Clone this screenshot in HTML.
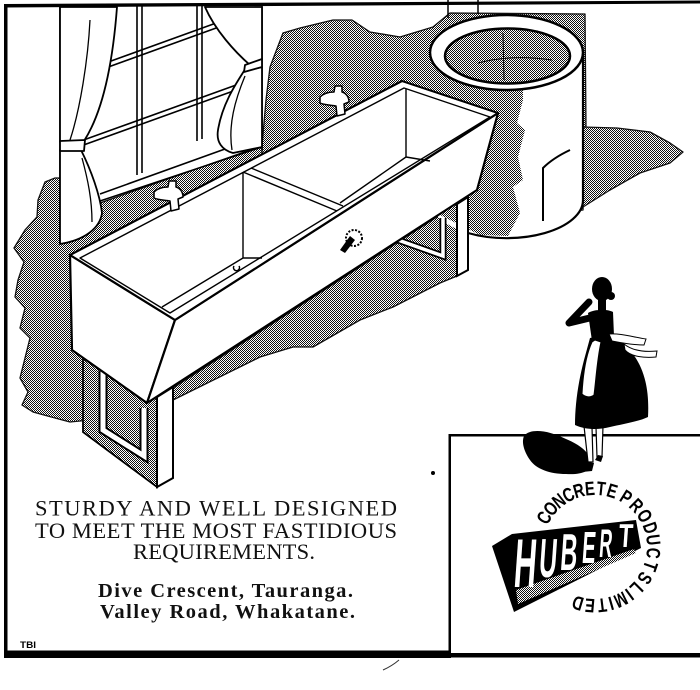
<!DOCTYPE html>
<html><head><meta charset="utf-8">
<style>
html,body{margin:0;padding:0;background:#fff;width:700px;height:690px;overflow:hidden}
svg{display:block}
</style></head>
<body>
<svg width="700" height="690" viewBox="0 0 700 690" xmlns="http://www.w3.org/2000/svg">
<defs>
<pattern id="st" width="2" height="2" patternUnits="userSpaceOnUse">
<rect width="2" height="2" fill="#fff"/>
<rect width="1" height="1" fill="#111"/>
<rect x="1" y="1" width="1" height="1" fill="#111"/>
</pattern>
</defs>
<rect width="700" height="690" fill="#fff"/>

<!-- stipple regions -->
<g fill="url(#st)" stroke="#111" stroke-width="1.3" stroke-linejoin="round">
<path d="M55,178 L60,178 L60,240 L100,203 L250,150 L262,146 L262,170 L150,300 L90,420 L70,422 L55,418 L33,412 L22,405 L28,392 L20,378 L25,358 L30,338 L20,328 L25,308 L15,297 L18,280 L24,262 L14,248 L25,230 L37,217 L38,200 L45,182 Z"/>
<path d="M262,146 L266,100 L270,67 L283,33 L300,28 L333,20 L352,20 L370,32 L400,37 L433,27 L450,13 L585,14 L586,127 L583,210 L523,216 L507,236 L490,215 L478,190 L497,113 L402,81 L262,155 Z"/>
<path d="M583,127 L617,128 L650,132 L670,143 L683,152 L670,163 L640,173 L610,190 L583,207 Z"/>
<path d="M150,403 L457,204 L457,276 L440,283 L393,307 L360,320 L313,347 L293,347 L260,357 L173,400 Z"/>
</g>

<!-- window -->
<g stroke="#000" fill="none" stroke-width="1.6">
<path d="M60,6 L60,244 M262,6 L262,150"/>
<path d="M137,6 L137,175 M142,6 L142,173 M197,6 L197,141 M202,6 L202,139"/>
<path d="M100,65 L230,18 M100,70 L230,23"/>
<path d="M78,142 L250,80 M78,147 L250,85"/>
<path d="M100,194 L250,140 M100,201 L262,147"/>
</g>

<!-- curtains -->
<g fill="#fff" stroke="#000" stroke-width="1.8" stroke-linejoin="round">
<path d="M60,7 L117,7 C113,60 104,110 84,141 L60,142 Z"/>
<path d="M60,150 L81,150 C91,170 100,195 102,213 C100,228 85,240 60,244 Z"/>
<path d="M60,141 L85,140 L84,151 L60,151 Z"/>
<path d="M205,7 L262,7 L262,59 L250,65 C235,52 215,30 205,7 Z"/>
<path d="M244,71 L262,67 L262,147 L233,153 C222,150 216,142 218,130 C222,105 235,85 244,71 Z"/>
<path d="M245,65 L262,59 L262,67 L244,72 Z"/>
</g>
<path d="M82,158 C88,180 92,200 92,222 M245,76 C235,100 228,125 232,150 M90,20 C88,60 80,110 70,140" stroke="#000" stroke-width="1.3" fill="none"/>

<!-- cylinder -->
<path d="M430,52 L430,200 A76.5,38 0 0 0 583,200 L583,52 Z" fill="#fff"/>
<path d="M430,52 L523,60 L523,100 L517,123 L525,130 L518,157 L523,180 L513,187 L520,213 L508,236 L480,235 L430,210 Z" fill="url(#st)"/>
<path d="M583,52 L583,202 M468,233 A76.5,38 0 0 0 583,200" stroke="#000" stroke-width="2.2" fill="none"/>
<ellipse cx="506.5" cy="52.5" rx="76.5" ry="37.5" fill="#fff" stroke="#000" stroke-width="2.5"/>
<ellipse cx="507.5" cy="56" rx="62.5" ry="27.5" fill="url(#st)" stroke="#000" stroke-width="2.5"/>
<path d="M503,33 L504,80 M478,63 Q512,54 552,60" stroke="#000" stroke-width="1" fill="none"/>
<path d="M543,221 L543,168 Q553,158 570,150" stroke="#000" stroke-width="2" fill="none"/>
<path d="M448,0 L448,18 M478,0 L478,14" stroke="#000" stroke-width="1.5"/>

<!-- right leg -->
<polyline points="398,240 443,256 443,218" fill="none" stroke="#000" stroke-width="7"/>
<polyline points="398,240 443,256 443,218" fill="none" stroke="#fff" stroke-width="3.5"/>
<polygon points="457,204 468,197 468,270 457,276" fill="#fff" stroke="#000" stroke-width="2"/>

<!-- left leg -->
<polygon points="83,358 147,403 157,397 157,487 83,432" fill="url(#st)" stroke="#000" stroke-width="1.8"/>
<polyline points="103,371 103,430 144,456 144,408" fill="none" stroke="#000" stroke-width="9"/>
<polyline points="103,371 103,430 144,456 144,408" fill="none" stroke="#fff" stroke-width="5"/>
<polygon points="157,397 173,387 173,478 157,487" fill="#fff" stroke="#000" stroke-width="2"/>

<!-- sink -->
<g stroke="#000" stroke-width="2.2" stroke-linejoin="round" fill="#fff">
<polygon points="70,255 175,320 147,403 72,350"/>
<polygon points="175,320 498,113 477,190 147,403"/>
<polygon points="70,255 402,81 498,113 175,320"/>
</g>
<g stroke="#000" stroke-width="1.4" fill="none" stroke-linejoin="round">
<polygon points="80,258 404,88 490,117 170,313"/>
<path d="M243,172 L243,258 L162,307 M243,258 L262,258 M243,172 L337,211 M251,168 L343,206 M406,89 L406,157 L340,203 M406,157 L430,161"/>
<path d="M234,266 a3,3 0 1,0 5,0" stroke-width="1.5"/>
<circle cx="354" cy="238" r="8" stroke-width="2" stroke-dasharray="2,1.5"/>
</g>
<path d="M340,250 L350,236 L355,240 L345,253 Z" fill="#000"/>

<!-- taps -->
<g fill="#fff" stroke="#000" stroke-width="1.5" stroke-linejoin="round">
<path d="M154,192 C158,188 164,187 168,187 L169,181 L176,181 L176,187 C180,188 183,192 183,197 L178,199 L179,209 L171,211 L170,201 C165,200 158,200 154,198 Z"/>
<path transform="translate(166,-95)" d="M154,192 C158,188 164,187 168,187 L169,181 L176,181 L176,187 C180,188 183,192 183,197 L178,199 L179,209 L171,211 L170,201 C165,200 158,200 154,198 Z"/>
</g>

<!-- frame -->
<g fill="#000">
<rect x="4" y="4" width="3.5" height="654"/>
<path d="M4,4 L700,0.5 L700,3.5 L4,7.5 Z"/>
<rect x="4" y="650.5" width="446" height="7.5"/>
<rect x="448.5" y="434" width="2.5" height="224"/>
<rect x="449" y="434" width="251" height="2.5"/>
<rect x="449" y="653" width="251" height="4.5"/>
<circle cx="433" cy="473" r="2"/>
</g>
<path d="M383,670 Q392,666 399,660" stroke="#333" stroke-width="1" fill="none"/>

<!-- text -->
<g font-family="'Liberation Serif', serif" fill="#111">
<text x="35" y="515.5" font-size="22.5" textLength="362" lengthAdjust="spacing">STURDY AND WELL DESIGNED</text>
<text x="35" y="538" font-size="22.5" textLength="362" lengthAdjust="spacing">TO MEET THE MOST FASTIDIOUS</text>
<text x="133" y="559" font-size="22.5" textLength="182" lengthAdjust="spacing">REQUIREMENTS.</text>
<text x="98" y="597" font-size="20.5" font-weight="bold" textLength="255" lengthAdjust="spacing">Dive Crescent, Tauranga.</text>
<text x="100" y="618" font-size="20.5" font-weight="bold" textLength="255" lengthAdjust="spacing">Valley Road, Whakatane.</text>
</g>
<text x="20" y="648" font-family="'Liberation Sans', sans-serif" font-weight="bold" font-size="9" textLength="16" lengthAdjust="spacingAndGlyphs">TBI</text>

<!-- logo block -->
<path d="M492,546 L512,534 L636,520 L641,548 L514,612 Z" fill="#000"/>
<path d="M516,590 L634,549 L636,553 L518,604 Z" fill="url(#st)"/>
<g fill="#fff" font-family="'Liberation Sans', sans-serif" font-weight="bold" text-anchor="middle">
<text transform="translate(524,587) skewX(-4) scale(0.45,1)" font-size="69">H</text>
<text transform="translate(547,577) skewX(-4) scale(0.45,1)" font-size="55">U</text>
<text transform="translate(568,570) skewX(-4) scale(0.45,1)" font-size="52">B</text>
<text transform="translate(588,563) skewX(-4) scale(0.45,1)" font-size="45">E</text>
<text transform="translate(605,557) skewX(-4) scale(0.45,1)" font-size="40">R</text>
<text transform="translate(625,547) skewX(-4) scale(0.7,1)" font-size="33">T</text>
</g>

<!-- circular text -->
<g font-family="'Liberation Sans', sans-serif" font-weight="bold" font-size="19.5" text-anchor="middle" fill="#000">
<text transform="translate(595,547) rotate(300) translate(0,-52) scale(0.76,1)">C</text>
<text transform="translate(595,547) rotate(311) translate(0,-52) scale(0.76,1)">O</text>
<text transform="translate(595,547) rotate(322) translate(0,-52) scale(0.76,1)">N</text>
<text transform="translate(595,547) rotate(333) translate(0,-52) scale(0.76,1)">C</text>
<text transform="translate(595,547) rotate(344) translate(0,-52) scale(0.76,1)">R</text>
<text transform="translate(595,547) rotate(355) translate(0,-52) scale(0.76,1)">E</text>
<text transform="translate(595,547) rotate(366) translate(0,-52) scale(0.76,1)">T</text>
<text transform="translate(595,547) rotate(377) translate(0,-52) scale(0.76,1)">E</text>
<text transform="translate(595,547) rotate(392) translate(0,-52) scale(0.76,1)">P</text>
<text transform="translate(595,547) rotate(405) translate(0,-52) scale(0.76,1)">R</text>
<text transform="translate(595,547) rotate(418) translate(0,-52) scale(0.76,1)">O</text>
<text transform="translate(595,547) rotate(431) translate(0,-52) scale(0.76,1)">D</text>
<text transform="translate(595,547) rotate(443) translate(0,-52) scale(0.76,1)">U</text>
<text transform="translate(595,547) rotate(456) translate(0,-52) scale(0.76,1)">C</text>
<text transform="translate(595,547) rotate(469) translate(0,-52) scale(0.76,1)">T</text>
<text transform="translate(595,547) rotate(482) translate(0,-52) scale(0.76,1)">S</text>
<text transform="translate(595,547) rotate(495) translate(0,-52) scale(0.76,1)">L</text>
<text transform="translate(595,547) rotate(504) translate(0,-52) scale(0.76,1)">I</text>
<text transform="translate(595,547) rotate(514) translate(0,-52) scale(0.76,1)">M</text>
<text transform="translate(595,547) rotate(524) translate(0,-52) scale(0.76,1)">I</text>
<text transform="translate(595,547) rotate(533) translate(0,-52) scale(0.76,1)">T</text>
<text transform="translate(595,547) rotate(545) translate(0,-52) scale(0.76,1)">E</text>
<text transform="translate(595,547) rotate(557) translate(0,-52) scale(0.76,1)">D</text>
</g>

<!-- woman -->
<path d="M524,436 C530,428 548,430 566,439 C580,445 590,452 591,463 C591,471 582,475 566,474 C550,474 536,469 530,460 C525,453 521,443 524,436 Z" fill="#000"/>
<g fill="#fff" stroke="#000" stroke-width="1.2">
<path d="M584,426 L588,462 L593,462 L592,427 Z"/>
<path d="M596,427 L597,457 L602,457 L603,426 Z"/>
</g>
<path d="M582,472 L588,462 L594,463 L592,471 Z M595,460 L598,455 L603,456 L601,462 Z" fill="#000"/>
<path d="M590,338 L611,334 C622,340 634,352 641,368 C647,382 649,398 648,417 C640,421 624,424 610,427 C598,430 586,430 575,425 C575,405 578,383 584,360 Z" fill="#000"/>
<path d="M588,313 C594,309 608,309 613,312 L614,336 L592,341 Z" fill="#000"/>
<polyline points="598,316 569,323 589,302" fill="none" stroke="#000" stroke-width="7" stroke-linejoin="round" stroke-linecap="round"/>
<rect x="598" y="298" width="8" height="14" fill="#000"/>
<ellipse cx="602" cy="289" rx="10" ry="12" fill="#000"/>
<circle cx="611" cy="296" r="4" fill="#000"/>
<g fill="#fff" stroke="#000" stroke-width="1">
<path d="M595,340 L601,342 C597,360 596,380 594,395 C590,398 585,397 582,394 C583,375 586,355 592,342 Z"/>
<path d="M609,334 C620,333 633,337 646,339 L644,345 C633,345 622,343 612,341 Z"/>
<path d="M624,344 C634,352 647,352 657,351 L656,357 C645,358 631,357 625,350 Z"/>
</g>
</svg>
</body></html>
